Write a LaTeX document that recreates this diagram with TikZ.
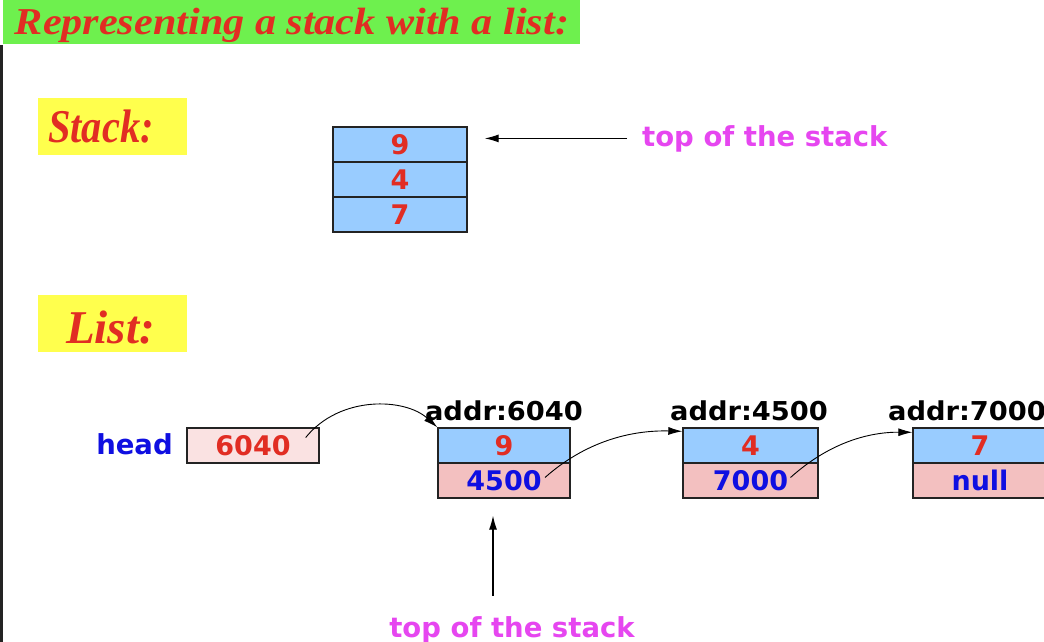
\documentclass[tikz,border=0pt]{standalone}
\usepackage{fontspec}
\usepackage{graphicx}
\setmainfont{Liberation Serif}
\newfontfamily\dv{DejaVu Sans}
\usetikzlibrary{arrows.meta}
\definecolor{tgreen}{RGB}{110,240,78}
\definecolor{tyellow}{RGB}{255,255,77}
\definecolor{tred}{RGB}{225,45,35}
\definecolor{tmag}{RGB}{230,70,240}
\definecolor{tblue}{RGB}{15,15,225}
\definecolor{cellblue}{RGB}{153,204,255}
\definecolor{pinklight}{RGB}{250,226,226}
\definecolor{pinknode}{RGB}{243,192,192}
\definecolor{edge}{RGB}{35,35,35}
\begin{document}
\begin{tikzpicture}[x=1pt,y=-1pt,
  cell/.style={draw=edge, line width=1.4pt, minimum height=35pt, inner sep=0pt,
    text height=20pt, text depth=0pt, font=\dv\bfseries\fontsize{27}{30}\selectfont},
  bluecell/.style={cell, fill=cellblue, text=tred},
  pinkcell/.style={cell, fill=pinknode, text=tblue},
  hdr/.style={inner sep=0pt, font=\dv\bfseries\fontsize{26}{30}\selectfont, text=black},
  mag/.style={inner sep=0pt, font=\dv\bfseries\fontsize{27.5}{32}\selectfont, text=tmag},
  ybox/.style={fill=tyellow, inner sep=0pt, minimum width=149pt, minimum height=57pt},
  ylab/.style={inner sep=0pt, font=\bfseries\itshape\fontsize{47}{50}\selectfont, text=tred},
  arr/.style={line width=1.1pt, draw=black, -{Latex[length=14pt,width=8pt]}}
]
\clip (0,0) rectangle (1044,642);
\fill[white] (0,0) rectangle (1044,642);
\fill[edge] (0,45) rectangle (2.5,642);

% title
\node[fill=tgreen, inner sep=0pt, minimum width=577pt, minimum height=44pt, anchor=north west] (tbox) at (3,0) {};
\node[inner sep=0pt, anchor=base, text=tred, font=\bfseries\itshape\fontsize{38}{42}\selectfont] (title) at (292,35) {\scalebox{1.11}[1]{Representing a stack with a list:}};

% Stack section
\node[ybox] (sbox) at (112.5,126.5) {};
\node[ylab, anchor=base] (stacklbl) at (101,142) {\scalebox{0.86}[1]{Stack:}};
\node[bluecell, minimum width=134pt] (s1) at (400,144.5) {9};
\node[bluecell, minimum width=134pt] (s2) at (400,179.5) {4};
\node[bluecell, minimum width=134pt] (s3) at (400,214.5) {7};
\node[mag, anchor=base west] (topS) at (642,146) {top of the stack};
\draw[arr, shorten <=15pt, shorten >=17pt] (topS.west) -- (s1.east |- topS.west);

% List section
\node[ybox] (lbox) at (112.5,323) {};
\node[ylab, anchor=base] (listlbl) at (110.5,343) {List:};

\node[inner sep=0pt, anchor=base, text=tblue, font=\dv\bfseries\fontsize{27.5}{32}\selectfont] (head) at (134.5,454) {head};
\node[cell, fill=pinklight, text=tred, minimum width=132pt] (hd) at (253,445.5) {6040};

\node[bluecell, minimum width=132pt] (n1a) at (504,445.5) {9};
\node[pinkcell, minimum width=132pt] (n1b) at (504,480.5) {4500};
\node[bluecell, minimum width=135pt] (n2a) at (750.5,445.5) {4};
\node[pinkcell, minimum width=135pt] (n2b) at (750.5,480.5) {7000};
\node[bluecell, minimum width=134pt] (n3a) at (980,445.5) {7};
\node[pinkcell, minimum width=134pt] (n3b) at (980,480.5) {null};

\node[hdr, anchor=base] (a1) at (504,420) {\scalebox{1.05}[1]{addr:6040}};
\node[hdr, anchor=base] (a2) at (749,420) {\scalebox{1.05}[1]{addr:4500}};
\node[hdr, anchor=base] (a3) at (967,420) {\scalebox{1.05}[1]{addr:7000}};

\draw[arr, line width=0.9pt] ([xshift=-14pt,yshift=8pt]hd.east) .. controls (340,395) and (405,398) .. (n1a.north west);
\draw[arr, line width=0.9pt] ([xshift=41pt,yshift=3pt]n1b.center) .. controls (585,442) and (630,430) .. ([yshift=-4pt]n2a.north west);
\draw[arr, line width=0.9pt] ([xshift=40pt,yshift=3pt]n2b.center) .. controls (830,442) and (870,432) .. ([yshift=-5pt]n3a.north west);

\node[mag, anchor=base] (topL) at (512,637) {top of the stack};
\draw[arr, shorten <=20pt, shorten >=17pt] ([xshift=-19pt]topL.north) -- ([xshift=-11pt]n1b.south);
\end{tikzpicture}
\end{document}
